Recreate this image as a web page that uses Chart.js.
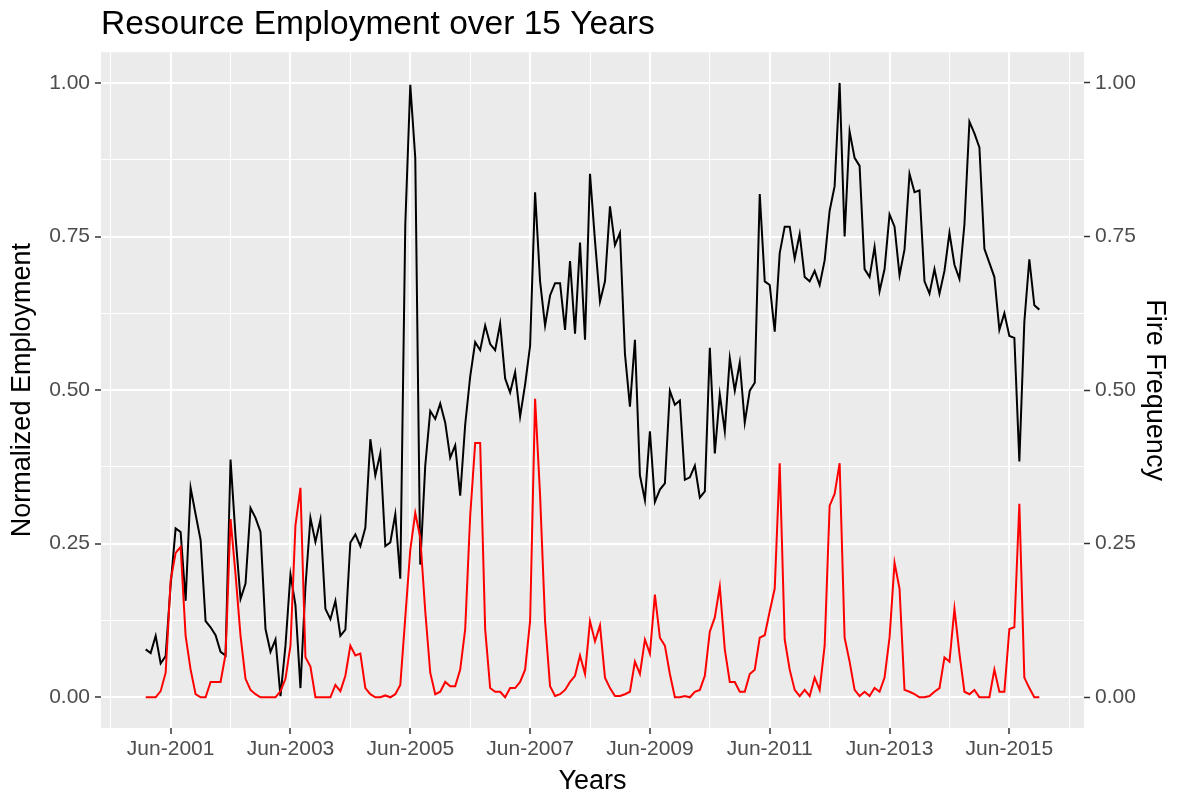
<!DOCTYPE html>
<html>
<head>
<meta charset="utf-8">
<title>Resource Employment over 15 Years</title>
<script src="https://cdn.jsdelivr.net/npm/chart.js@4.4.0/dist/chart.umd.min.js"></script>
<style>
  html, body { margin: 0; padding: 0; background: #ffffff; }
</style>
</head>
<body>
<canvas id="chart" width="1180" height="795"></canvas>
<script>
// monthly series, Jan-2001 .. Dec-2015 (index 0 = Jan-2001)
var employment = [
    0.078, 0.072, 0.100, 0.055, 0.067, 0.183, 0.275, 0.269, 0.157, 0.341, 0.298, 0.256,
    0.124, 0.114, 0.101, 0.074, 0.068, 0.387, 0.262, 0.160, 0.185, 0.308, 0.292, 0.269,
    0.111, 0.074, 0.094, 0.002, 0.084, 0.200, 0.150, 0.015, 0.180, 0.292, 0.253, 0.289,
    0.144, 0.127, 0.157, 0.100, 0.110, 0.252, 0.265, 0.246, 0.276, 0.420, 0.361, 0.397,
    0.246, 0.252, 0.298, 0.193, 0.769, 0.997, 0.878, 0.216, 0.377, 0.466, 0.453, 0.478,
    0.447, 0.390, 0.410, 0.328, 0.444, 0.522, 0.578, 0.565, 0.605, 0.575, 0.565, 0.608,
    0.519, 0.496, 0.529, 0.457, 0.509, 0.572, 0.822, 0.677, 0.605, 0.654, 0.674, 0.674,
    0.598, 0.710, 0.592, 0.740, 0.582, 0.852, 0.743, 0.644, 0.677, 0.799, 0.736, 0.756,
    0.559, 0.473, 0.582, 0.361, 0.321, 0.433, 0.318, 0.338, 0.348, 0.499, 0.476, 0.483,
    0.354, 0.358, 0.377, 0.325, 0.335, 0.569, 0.397, 0.493, 0.433, 0.552, 0.499, 0.545,
    0.447, 0.499, 0.512, 0.819, 0.677, 0.671, 0.595, 0.723, 0.766, 0.766, 0.714, 0.754,
    0.684, 0.677, 0.694, 0.671, 0.711, 0.792, 0.832, 1.000, 0.750, 0.921, 0.878, 0.865,
    0.697, 0.684, 0.733, 0.661, 0.697, 0.786, 0.766, 0.687, 0.729, 0.852, 0.822, 0.825,
    0.677, 0.657, 0.697, 0.657, 0.694, 0.756, 0.704, 0.681, 0.770, 0.937, 0.918, 0.895,
    0.730, 0.707, 0.684, 0.598, 0.625, 0.588, 0.585, 0.384, 0.611, 0.713, 0.638, 0.631
];

var fireFrequency = [
    0.000, 0.000, 0.000, 0.010, 0.040, 0.190, 0.235, 0.245, 0.100, 0.045, 0.005, 0.000,
    0.000, 0.025, 0.025, 0.025, 0.070, 0.290, 0.200, 0.100, 0.030, 0.012, 0.005, 0.000,
    0.000, 0.000, 0.000, 0.010, 0.030, 0.084, 0.280, 0.341, 0.065, 0.050, 0.000, 0.000,
    0.000, 0.000, 0.020, 0.010, 0.035, 0.084, 0.068, 0.071, 0.015, 0.005, 0.000, 0.000,
    0.003, 0.000, 0.005, 0.020, 0.130, 0.240, 0.300, 0.260, 0.140, 0.040, 0.005, 0.009,
    0.025, 0.018, 0.018, 0.045, 0.111, 0.295, 0.414, 0.414, 0.111, 0.015, 0.009, 0.009,
    0.000, 0.015, 0.015, 0.025, 0.045, 0.124, 0.486, 0.329, 0.124, 0.018, 0.002, 0.005,
    0.012, 0.025, 0.035, 0.068, 0.038, 0.124, 0.091, 0.117, 0.032, 0.015, 0.002, 0.002,
    0.005, 0.009, 0.058, 0.038, 0.094, 0.071, 0.167, 0.097, 0.084, 0.038, 0.000, 0.000,
    0.002, 0.000, 0.009, 0.012, 0.035, 0.107, 0.130, 0.180, 0.078, 0.025, 0.025, 0.009,
    0.009, 0.038, 0.045, 0.097, 0.101, 0.140, 0.177, 0.381, 0.094, 0.045, 0.012, 0.002,
    0.012, 0.002, 0.032, 0.012, 0.084, 0.312, 0.331, 0.381, 0.097, 0.058, 0.012, 0.002,
    0.009, 0.002, 0.015, 0.009, 0.032, 0.097, 0.219, 0.177, 0.012, 0.009, 0.005, 0.000,
    0.000, 0.002, 0.009, 0.015, 0.065, 0.058, 0.144, 0.071, 0.009, 0.005, 0.012, 0.000,
    0.000, 0.000, 0.045, 0.009, 0.009, 0.111, 0.114, 0.315, 0.032, 0.015, 0.000, 0.000
];

// x ticks (month index of Jun of each odd year) and their labels
var xTickMonths = [5, 29, 53, 77, 101, 125, 149, 173];
var xTickLabels = ['Jun-2001', 'Jun-2003', 'Jun-2005', 'Jun-2007', 'Jun-2009', 'Jun-2011', 'Jun-2013', 'Jun-2015'];
// minor grid months (Jun of even years)
var xMinorMonths = [-7, 17, 41, 65, 89, 113, 137, 161, 185];

var yTicks = [0, 0.25, 0.5, 0.75, 1];
var yTickLabels = ['0.00', '0.25', '0.50', '0.75', '1.00'];
var yMinorTicks = [0.125, 0.375, 0.625, 0.875];

var FONT = '"Liberation Sans", Arial, Helvetica, sans-serif';

// grey ggplot-like panel behind the grid
var panelBg = {
    id: 'panelBg',
    beforeDraw: function (chart) {
        var a = chart.chartArea;
        var ctx = chart.ctx;
        ctx.save();
        ctx.fillStyle = '#EBEBEB';
        ctx.fillRect(a.left, a.top, a.right - a.left, a.bottom - a.top);
        ctx.restore();
    }
};

function toPoints(arr) {
    return arr.map(function (v, i) { return { x: i, y: v }; });
}

function sortNum(a, b) { return a - b; }

var ctx = document.getElementById('chart').getContext('2d');

var chart = new Chart(ctx, {
    type: 'line',
    data: {
        datasets: [{
            label: 'Fire Frequency',
            data: toPoints(fireFrequency),
            borderColor: '#FF0000',
            borderWidth: 2,
            pointRadius: 0,
            tension: 0,
            fill: false,
            yAxisID: 'y2'
        }, {
            label: 'Normalized Employment',
            data: toPoints(employment),
            borderColor: '#000000',
            borderWidth: 2,
            pointRadius: 0,
            tension: 0,
            fill: false,
            yAxisID: 'y'
        }]
    },
    options: {
        responsive: false,
        animation: false,
        devicePixelRatio: 1,
        layout: { padding: 0 },
        plugins: {
            legend: { display: false },
            tooltip: { enabled: false },
            title: {
                display: true,
                text: 'Resource Employment over 15 Years',
                align: 'start',
                fullSize: false,
                color: '#000000',
                font: { family: FONT, size: 33.5, weight: 'normal' },
                padding: { top: 5, bottom: 7 }
            }
        },
        scales: {
            x: {
                type: 'linear',
                min: -8.95,
                max: 187.95,
                afterBuildTicks: function (s) {
                    s.ticks = xTickMonths.concat(xMinorMonths).sort(sortNum).map(function (m) { return { value: m }; });
                },
                afterFit: function (s) { s.height = 67; },
                border: { display: false },
                grid: {
                    color: '#FFFFFF',
                    lineWidth: function (c) { return xTickMonths.indexOf(c.tick.value) >= 0 ? 2 : 1; },
                    tickColor: function (c) { return xTickMonths.indexOf(c.tick.value) >= 0 ? '#333333' : 'rgba(0,0,0,0)'; },
                    tickLength: 6,
                    tickWidth: 1.5
                },
                ticks: {
                    autoSkip: false,
                    maxRotation: 0,
                    minRotation: 0,
                    padding: 3,
                    color: '#4D4D4D',
                    font: { family: FONT, size: 21 },
                    callback: function (v) {
                        var k = xTickMonths.indexOf(v);
                        return k >= 0 ? xTickLabels[k] : '';
                    }
                },
                title: {
                    display: true,
                    text: 'Years',
                    color: '#000000',
                    font: { family: FONT, size: 27 },
                    padding: { top: 0, bottom: -3 }
                }
            },
            y: {
                position: 'left',
                min: -0.05,
                max: 1.05,
                afterBuildTicks: function (s) {
                    s.ticks = yTicks.concat(yMinorTicks).sort(sortNum).map(function (v) { return { value: v }; });
                },
                afterFit: function (s) { s.width = 101; },
                border: { display: false },
                grid: {
                    color: '#FFFFFF',
                    lineWidth: function (c) { return yTicks.indexOf(c.tick.value) >= 0 ? 2 : 1; },
                    tickColor: function (c) { return yTicks.indexOf(c.tick.value) >= 0 ? '#333333' : 'rgba(0,0,0,0)'; },
                    tickLength: 6,
                    tickWidth: 1.5
                },
                ticks: {
                    autoSkip: false,
                    padding: 5,
                    color: '#4D4D4D',
                    font: { family: FONT, size: 21 },
                    callback: function (v) {
                        var k = yTicks.indexOf(v);
                        return k >= 0 ? yTickLabels[k] : '';
                    }
                },
                title: {
                    display: true,
                    text: 'Normalized Employment',
                    color: '#000000',
                    font: { family: FONT, size: 27 },
                    padding: { top: 6, bottom: 0 }
                }
            },
            y2: {
                position: 'right',
                min: -0.05,
                max: 1.05,
                afterBuildTicks: function (s) {
                    s.ticks = yTicks.map(function (v) { return { value: v }; });
                },
                afterFit: function (s) { s.width = 96; },
                border: { display: false },
                grid: {
                    drawOnChartArea: false,
                    tickColor: '#333333',
                    tickLength: 6,
                    tickWidth: 1.5
                },
                ticks: {
                    autoSkip: false,
                    padding: 5,
                    color: '#4D4D4D',
                    font: { family: FONT, size: 21 },
                    callback: function (v) {
                        var k = yTicks.indexOf(v);
                        return k >= 0 ? yTickLabels[k] : '';
                    }
                },
                title: {
                    display: true,
                    text: 'Fire Frequency',
                    color: '#000000',
                    font: { family: FONT, size: 27 },
                    padding: { top: 9, bottom: 0 }
                }
            }
        }
    },
    plugins: [panelBg]
});
</script>
</body>
</html>
